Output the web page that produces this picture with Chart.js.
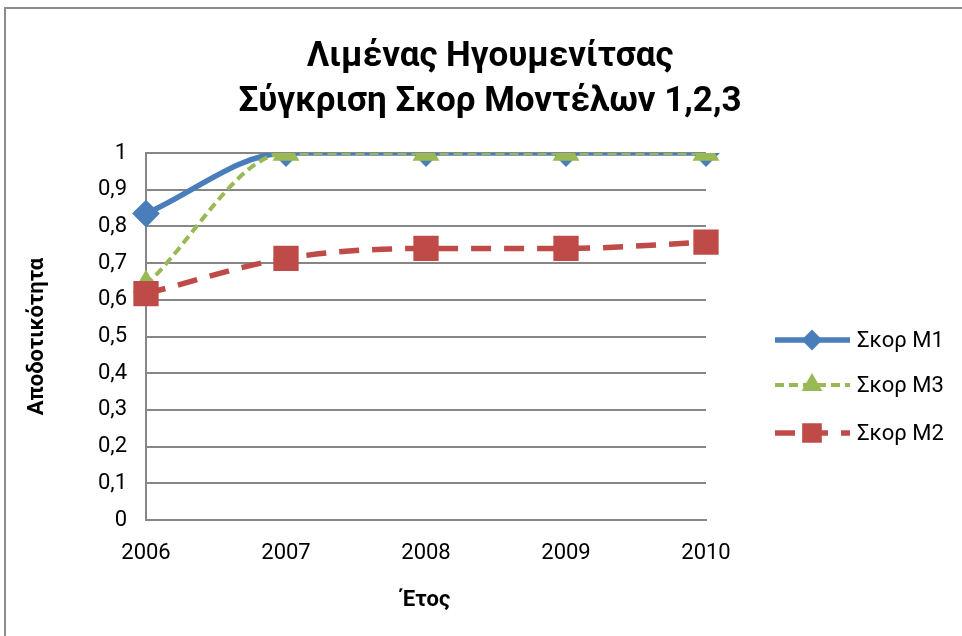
<!DOCTYPE html>
<html>
<head>
    <meta charset="utf-8">
    <title>Λιμένας Ηγουμενίτσας</title>
    <script src="https://cdn.jsdelivr.net/npm/chart.js"></script>
    <style>
        html, body { margin: 0; padding: 0; background: #fff; overflow: hidden; }
        .chart-box { width: 962px; height: 636px; position: relative; }
    </style>
</head>
<body>
    <div class="chart-box">
        <canvas id="score-chart"></canvas>
    </div>

    <script>
        // δεδομένα
        const years = ['2006', '2007', '2008', '2009', '2010'];
        const scoreM1 = [0.835, 1, 1, 1, 1];
        const scoreM3 = [0.64, 1, 1, 1, 1];
        const scoreM2 = [0.617, 0.713, 0.74, 0.74, 0.757];
        const yTickLabels = ['0', '0,1', '0,2', '0,3', '0,4', '0,5', '0,6', '0,7', '0,8', '0,9', '1'];
        const titleLines = ['Λιμένας Ηγουμενίτσας', 'Σύγκριση Σκορ Μοντέλων 1,2,3'];

        const FONT = "Roboto, 'Noto Sans', sans-serif";

        // πλαίσιο + τίτλος στο κέντρο όλου του καμβά
        const frame = {
            id: 'frame',
            beforeDraw(chart) {
                const ctx = chart.ctx;
                ctx.save();
                ctx.strokeStyle = '#8c8c8c';
                ctx.lineWidth = 2;
                ctx.strokeRect(5, 8, 1000, 700);
                ctx.fillStyle = '#000';
                ctx.font = 'bold 35px ' + FONT;
                ctx.textAlign = 'center';
                ctx.textBaseline = 'alphabetic';
                ctx.fillText(titleLines[0], 490, 66);
                ctx.fillText(titleLines[1], 490, 111);
                ctx.restore();
            }
        };

        // υπόμνημα με γραμμή + σημάδι όπως στο Excel
        const sideLegend = {
            id: 'sideLegend',
            afterDraw(chart) {
                const ctx = chart.ctx;
                const rowY = [340, 385, 433];
                const markSize = [6.5, 8, 10];
                ctx.save();
                chart.data.datasets.forEach((ds, i) => {
                    const y = rowY[i];
                    ctx.strokeStyle = ds.borderColor;
                    ctx.lineWidth = ds.borderWidth;
                    ctx.setLineDash(ds.borderDash || []);
                    ctx.beginPath();
                    ctx.moveTo(775, y);
                    ctx.lineTo(850, y);
                    ctx.stroke();
                    ctx.setLineDash([]);
                    ctx.fillStyle = ds.pointBackgroundColor;
                    ctx.strokeStyle = ds.pointBorderColor;
                    Chart.helpers.drawPoint(ctx, {
                        pointStyle: ds.pointStyle,
                        radius: markSize[i],
                        borderWidth: 1
                    }, 812, y);
                    ctx.fillStyle = '#000';
                    ctx.font = '22px ' + FONT;
                    ctx.textBaseline = 'middle';
                    ctx.textAlign = 'left';
                    ctx.fillText(ds.label, 857, y + 1);
                });
                ctx.restore();
            }
        };

        const ctx = document.getElementById('score-chart').getContext('2d');
        const scoreChart = new Chart(ctx, {
            type: 'line',
            data: {
                labels: years,
                datasets: [
                    {
                        label: 'Σκορ Μ1',
                        data: scoreM1,
                        borderColor: '#4a7ebb',
                        backgroundColor: '#4a7ebb',
                        pointBackgroundColor: '#4a7ebb',
                        pointBorderColor: '#4a7ebb',
                        borderWidth: 5.5,
                        pointStyle: 'rectRot',
                        pointRadius: 10,
                        cubicInterpolationMode: 'monotone',
                        order: 2
                    },
                    {
                        label: 'Σκορ Μ3',
                        data: scoreM3,
                        borderColor: '#98b954',
                        backgroundColor: '#98b954',
                        pointBackgroundColor: '#98b954',
                        pointBorderColor: '#98b954',
                        borderWidth: 4,
                        borderDash: [9, 5],
                        pointStyle: 'triangle',
                        pointRadius: 11.5,
                        cubicInterpolationMode: 'monotone',
                        order: 1
                    },
                    {
                        label: 'Σκορ Μ2',
                        data: scoreM2,
                        borderColor: '#be4b48',
                        backgroundColor: '#be4b48',
                        pointBackgroundColor: '#be4b48',
                        pointBorderColor: '#be4b48',
                        borderWidth: 5.5,
                        borderDash: [20, 13],
                        pointStyle: 'rect',
                        pointRadius: 14,
                        cubicInterpolationMode: 'monotone',
                        order: 0
                    }
                ]
            },
            options: {
                responsive: true,
                maintainAspectRatio: false,
                animation: false,
                layout: {
                    padding: { left: 20, right: 256, top: 153, bottom: 10 }
                },
                plugins: {
                    legend: { display: false },
                    tooltip: { enabled: false },
                    title: { display: false }
                },
                scales: {
                    x: {
                        offset: false,
                        afterFit: scale => { scale.height = 106; },
                        grid: { display: false, drawTicks: false },
                        border: { display: true, color: '#868686', width: 2 },
                        ticks: {
                            color: '#000',
                            padding: 20,
                            maxRotation: 0,
                            font: { family: FONT, size: 22 }
                        },
                        title: {
                            display: true,
                            text: 'Έτος',
                            color: '#000',
                            font: { family: FONT, size: 22, weight: 'bold' },
                            padding: { top: 0, bottom: 12 }
                        }
                    },
                    y: {
                        min: 0,
                        max: 1,
                        afterFit: scale => { scale.width = 126; },
                        grid: { color: '#868686', lineWidth: 2, drawTicks: false },
                        border: { display: true, color: '#868686', width: 2 },
                        ticks: {
                            stepSize: 0.1,
                            color: '#000',
                            padding: 19,
                            font: { family: FONT, size: 22 },
                            callback: (v, i) => yTickLabels[i]
                        },
                        title: {
                            display: true,
                            text: 'Αποδοτικότητα',
                            color: '#000',
                            font: { family: FONT, size: 22, weight: 'bold' },
                            padding: { top: 4, bottom: 4 }
                        }
                    }
                }
            },
            plugins: [frame, sideLegend]
        });
    </script>
</body>
</html>
